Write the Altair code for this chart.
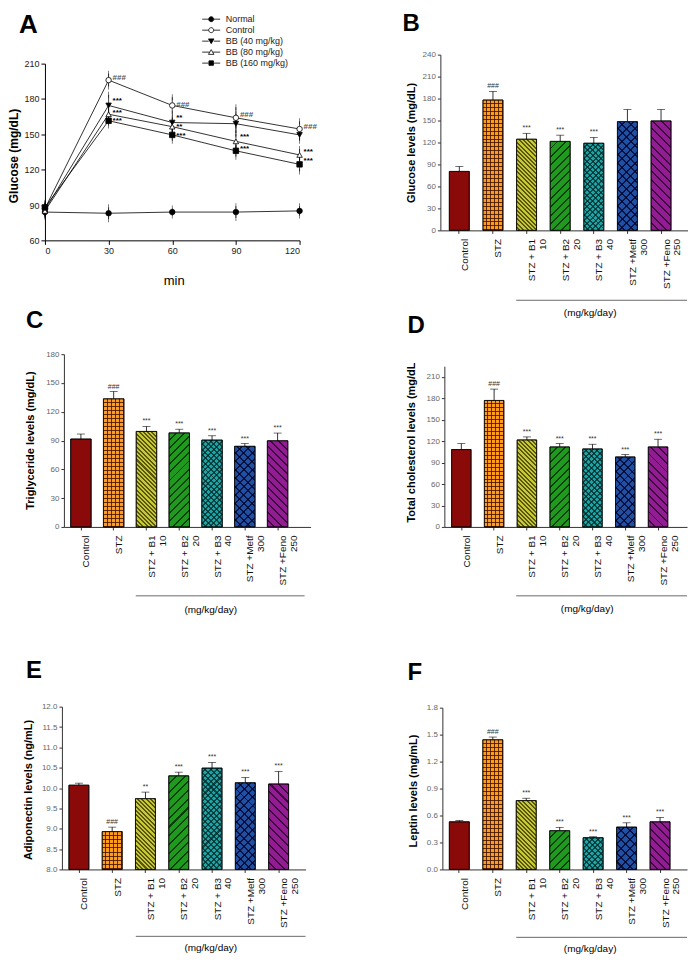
import altair as alt
import pandas as pd

FONT = "Liberation Sans"

# ---------------- Panel A : glucose tolerance ----------------
times = [0, 30, 60, 90, 120]
series_names = ["Normal", "Control", "BB (40 mg/kg)", "BB (80 mg/kg)", "BB (160 mg/kg)"]
normal_mean = [84, 83, 84, 84, 85]
normal_err = [4, 5, 3, 5, 4]
control_mean = [87, 196, 174.5, 164, 154.5]
control_err = [4, 5.5, 7, 9, 6.5]
bb40_mean = [86, 174.5, 160, 159, 149.5]
bb40_err = [4, 9, 5, 8, 5]
bb80_mean = [85, 167, 156.5, 144, 132.5]
bb80_err = [4, 5, 5, 6, 5]
bb160_mean = [88, 161.5, 149.5, 136, 124.5]
bb160_err = [4, 4, 5, 5, 6]

a_ann_series = ["Control"] * 4 + ["BB (40 mg/kg)"] * 2 + ["BB (80 mg/kg)"] * 4 + ["BB (160 mg/kg)"] * 4
a_ann_time = [30, 60, 90, 120, 30, 60, 30, 60, 90, 120, 30, 60, 90, 120]
a_ann_text = ["###"] * 4 + ["***", "**"] + ["***", "**", "***", "***"] + ["***"] * 4
a_ann_shift = [1.5, 0, 2.5, 1.5, 4, 4, 1.5, 0, 3.5, 2.5, 0, -1, 1.5, 2.5]

# ---------------- Bar panels ----------------
bar_cats = ["Control|", "STZ|", "STZ + B1|10", "STZ + B2|20", "STZ + B3|40", "STZ +Metf|300", "STZ +Feno|250"]
bar_colors = ["#8a0a0a", "#ff9c1c", "#c8c834", "#1f9a1f", "#1ea4a4", "#1f50a4", "#921c92"]
# texture of each bar: (kind, period px, line colour)
bar_textures = [
    [],
    [("h", 4, "rgba(70,20,0,0.85)"), ("v", 4, "rgba(70,20,0,0.85)")],
    [("b", 3, "rgba(40,40,0,0.7)")],
    [("f", 6, "rgba(0,40,0,0.8)")],
    [("f", 4, "rgba(0,35,35,0.7)"), ("b", 4, "rgba(0,35,35,0.7)")],
    [("f", 6, "rgba(0,0,35,0.75)"), ("b", 6, "rgba(0,0,35,0.75)")],
    [("b", 6, "rgba(35,0,35,0.75)")],
]

glu_mean = [80.5, 178, 124.5, 121.5, 119, 148.5, 149.5]
glu_err = [6.8, 11.8, 8, 8.5, 8, 16.5, 15.5]
glu_sig = ["", "###", "***", "***", "***", "", ""]

tg_mean = [91.6, 133.5, 99.5, 98, 90.5, 84, 89.8]
tg_err = [5.2, 7.6, 5.2, 3.8, 4.5, 2.8, 8]
tg_sig = ["", "###", "***", "***", "***", "***", "***"]

tc_mean = [108.3, 177, 121.8, 112, 109.2, 98, 112]
tc_err = [8.4, 15.9, 4.2, 4.7, 6.5, 3.3, 10.7]
tc_sig = ["", "###", "***", "***", "***", "***", "***"]

adn_mean = [10.07, 8.93, 9.74, 10.30, 10.49, 10.13, 10.10]
adn_err = [0.05, 0.11, 0.16, 0.09, 0.14, 0.13, 0.31]
adn_sig = ["", "###", "**", "***", "***", "***", "***"]

lep_mean = [0.53, 1.443, 0.766, 0.431, 0.353, 0.471, 0.53]
lep_err = [0.015, 0.03, 0.026, 0.037, 0.011, 0.048, 0.048]
lep_sig = ["", "###", "***", "***", "***", "***", "***"]

one = pd.DataFrame({"k": [0]})
CLEAR = "rgba(0,0,0,0)"


def text_layer(txt, x, y, size, weight="normal", align="left", baseline="alphabetic", color="black"):
    return alt.Chart(one).mark_text(
        text=txt, font=FONT, fontSize=size, fontWeight=weight, align=align,
        baseline=baseline, color=color
    ).encode(x=alt.value(x), y=alt.value(y))


def stripe_gradient(kind, period, color, W, H):
    lw = 1.0
    if kind == "h":
        n = max(1, round(H / period)); coords = dict(x1=0, y1=0, x2=0, y2=1)
    elif kind == "v":
        n = max(1, round(W / period)); coords = dict(x1=0, y1=0, x2=1, y2=0)
    else:
        k = (W + H) / (W * W + H * H)
        n = max(1, round((W + H) / (period * 1.4142)))
        if kind == "f":
            coords = dict(x1=0, y1=0, x2=k * W, y2=k * H)
        else:
            coords = dict(x1=0, y1=1, x2=k * W, y2=1 - k * H)
    frac = min(0.6, lw / period * (1.4142 if kind in "fb" else 1.0))
    stops = []
    for i in range(n):
        a = i / n
        b = (i + 1 - frac) / n
        c = (i + 1) / n
        stops += [dict(offset=a, color=CLEAR), dict(offset=b, color=CLEAR),
                  dict(offset=b, color=color), dict(offset=c, color=color)]
    return dict(gradient="linear", stops=stops, **coords)


# ---------------- Panel A chart ----------------
means = [normal_mean, control_mean, bb40_mean, bb80_mean, bb160_mean]
errs = [normal_err, control_err, bb40_err, bb80_err, bb160_err]
rows = []
for name, m, e in zip(series_names, means, errs):
    for t, mv, ev in zip(times, m, e):
        rows.append(dict(series=name, time=t, mean=mv, lo=mv - ev, hi=mv + ev))
dfa = pd.DataFrame(rows)

ann_rows = []
for s, t, txt, sh in zip(a_ann_series, a_ann_time, a_ann_text, a_ann_shift):
    mv = means[series_names.index(s)][times.index(t)]
    ann_rows.append(dict(series=s, time=t, txt=txt, yv=mv + sh,
                         col="#555555" if txt == "###" else "#000000"))
dfa_ann = pd.DataFrame(ann_rows)

AW, AH = 266, 186
a_yvals = [60, 90, 120, 150, 180, 210]
ax_x = alt.Scale(domain=[0, 120], range=[0, 255], nice=False, zero=False)
ax_y = alt.Scale(domain=[60, 210], range=[186, 9], nice=False, zero=False)
xA = alt.X("time:Q", scale=ax_x, axis=alt.Axis(
    values=times, tickCount=len(times), title="min", labelFontSize=9, labelColor="#222", tickSize=4,
    labelPadding=2, domainColor="black", tickColor="black", grid=False, labelOverlap=False,
    titleFontSize=13, titleFontWeight="normal", titleX=129, titleY=40,
    titleBaseline="middle", titleAlign="center"))
yA = alt.Y("mean:Q", scale=ax_y, axis=alt.Axis(
    values=a_yvals, tickCount=len(a_yvals), title="Glucose (mg/dL)", labelFontSize=9,
    labelColor="#222", tickSize=4, labelPadding=2, domainColor="black", tickColor="black",
    grid=False, labelOverlap=False, titleFontSize=12, titleFontWeight="bold", titleX=-24,
    titleY=101, titleAngle=270, titleBaseline="bottom", titleAlign="center"))

a_lines = alt.Chart(dfa).mark_line(color="black", strokeWidth=0.8).encode(
    x=xA, y=yA, detail="series:N")
a_err = alt.Chart(dfa).mark_rule(color="black", strokeWidth=0.7).encode(
    x=xA, y="lo:Q", y2="hi:Q")
a_cap_lo = alt.Chart(dfa).mark_tick(color="black", size=6, thickness=0.7).encode(x=xA, y="lo:Q")
a_cap_hi = alt.Chart(dfa).mark_tick(color="black", size=6, thickness=0.7).encode(x=xA, y="hi:Q")

shapes_plot = ["circle", "circle", "triangle-down", "triangle-up", "square"]
fills = ["black", "white", "black", "white", "black"]
strokes = ["black"] * 5
a_pts = alt.Chart(dfa).mark_point(filled=True, size=30, stroke="black", strokeWidth=0.8, opacity=1).encode(
    x=xA, y=yA,
    shape=alt.Shape("series:N", scale=alt.Scale(domain=series_names, range=shapes_plot), legend=None),
    fill=alt.Fill("series:N", scale=alt.Scale(domain=series_names, range=fills), legend=None))

seg = "M-1.8,0L-0.5,0M0.5,0L1.8,0"
legend_paths = [
    "M-0.5,0A0.5,0.5,0,1,0,0.5,0A0.5,0.5,0,1,0,-0.5,0Z" + seg,
    "M-0.5,0A0.5,0.5,0,1,0,0.5,0A0.5,0.5,0,1,0,-0.5,0Z" + seg,
    "M-0.55,-0.45L0.55,-0.45L0,0.5Z" + seg,
    "M-0.55,0.45L0.55,0.45L0,-0.5Z" + "M-1.8,0L-0.3,0M0.3,0L1.8,0",
    "M-0.45,-0.45L0.45,-0.45L0.45,0.45L-0.45,0.45Z" + seg,
]
leg = dict(orient="none", legendX=161, legendY=-41, title=None, labelFont=FONT,
           labelFontSize=9, labelColor="#222", symbolSize=100, symbolStrokeColor="black",
           symbolStrokeWidth=0.8, symbolOpacity=1, labelOffset=9, rowPadding=0,
           padding=0, labelLimit=200)
a_leg = alt.Chart(dfa).mark_point(filled=True, size=100, opacity=0).encode(
    x=xA, y=yA,
    shape=alt.Shape("series:N", scale=alt.Scale(domain=series_names, range=legend_paths),
                    legend=alt.Legend(**leg)),
    fill=alt.Fill("series:N", scale=alt.Scale(domain=series_names, range=fills),
                  legend=alt.Legend(**leg)),
    stroke=alt.Stroke("series:N", scale=alt.Scale(domain=series_names, range=strokes),
                      legend=alt.Legend(**leg)))

a_txt = alt.Chart(dfa_ann).mark_text(font=FONT, fontSize=8, fontWeight="bold", align="left",
                                     baseline="middle", dx=4).encode(
    x=xA, y=alt.Y("yv:Q"), text="txt:N", color=alt.Color("col:N", scale=None))

panelA = alt.layer(
    a_lines, a_err, a_cap_lo, a_cap_hi, a_pts, a_leg, a_txt,
    text_layer("A", -26, -22, 26, "bold")
).resolve_scale(shape="independent", fill="independent", stroke="independent").properties(width=AW, height=AH)


# ---------------- bar panel builder ----------------
def bar_panel(letter, mean, err, sig, ytitle, ydom, yvals, yfmt, base, g):
    df = pd.DataFrame({"cat": bar_cats, "mean": mean,
                       "top": [m + e for m, e in zip(mean, err)],
                       "sig": sig, "base": [base] * len(bar_cats)})
    step = (g["c6"] - g["c0"]) / 6
    pi = 1 - g["bw"] / step
    po = ((g["r1"] - g["r0"]) / step - 7 + pi) / 2
    al = (g["c0"] - g["r0"] - g["bw"] / 2) / (2 * po * step)
    xs = alt.Scale(domain=bar_cats, range=[g["r0"], g["r1"]], paddingInner=pi,
                   paddingOuter=po, align=al, round=False)
    ys = alt.Scale(domain=ydom, range=[g["h"], g["ytop"]], nice=False, zero=False)
    xax = alt.Axis(title=None, labelAngle=270, labelAlign="right", labelBaseline="middle",
                   labelExpr="split(datum.label, '|')", labelFontSize=10, labelLineHeight=11,
                   labelOffset=5.5, labelPadding=5, tickSize=3, domainColor="#333",
                   tickColor="#333", labelColor="#111", grid=False, labelOverlap=False)
    yax = alt.Axis(title=ytitle, values=yvals, tickCount=len(yvals), format=yfmt,
                   offset=-g["r0"], labelFontSize=8,
                   labelColor="#666", tickSize=3, labelPadding=2, domainColor="#333",
                   tickColor="#333", grid=False, labelOverlap=False, titleFontSize=11,
                   titleFontWeight="bold", titleX=g["tx"], titleY=g["ty"], titleAngle=270,
                   titleBaseline="bottom", titleAlign="center")
    X = alt.X("cat:N", scale=xs, axis=xax)
    Y = alt.Y("mean:Q", scale=ys, axis=yax)
    bars = alt.Chart(df).mark_bar(stroke="black", strokeWidth=0.7).encode(
        x=X, y=Y, y2="base:Q",
        color=alt.Color("cat:N", scale=alt.Scale(domain=bar_cats, range=bar_colors), legend=None))
    layers = [bars]
    ppu = (g["h"] - g["ytop"]) / (ydom[1] - ydom[0])
    for cat, m, tex in zip(bar_cats, mean, bar_textures):
        Hpx = max(2.0, (m - base) * ppu)
        for kind, period, col in tex:
            grad = stripe_gradient(kind, period, col, g["bw"], Hpx)
            layers.append(
                alt.Chart(df).transform_filter(alt.datum.cat == cat)
                .mark_bar(fill=grad, strokeWidth=0)
                .encode(x=X, y=Y, y2="base:Q"))
    outline = alt.Chart(df).mark_bar(stroke="black", strokeWidth=0.7, fillOpacity=0).encode(
        x=X, y=Y, y2="base:Q")
    erl = alt.Chart(df).mark_rule(color="black", strokeWidth=0.8).encode(x=X, y="mean:Q", y2="top:Q")
    cap = alt.Chart(df).mark_tick(color="black", size=8, thickness=0.8).encode(x=X, y="top:Q")
    sgt = alt.Chart(df).mark_text(font=FONT, fontSize=7, color="#333", baseline="bottom", dy=-2).encode(
        x=X, y="top:Q", text="sig:N")
    sep = alt.Chart(one).mark_rule(color="#444", strokeWidth=0.8).encode(
        x=alt.value(g["sx0"]), x2=alt.value(g["sx1"]), y=alt.value(g["sy"]))
    note = text_layer("(mg/kg/day)", g["nx"], g["ny"], 10, align="center", baseline="middle")
    lt = text_layer(letter, g["lx"], g["ly"], 24, "bold")
    layers += [outline, erl, cap, sgt, sep, note, lt]
    return alt.layer(*layers).properties(width=g["w"], height=g["h"])


gB = dict(w=248, h=176, ytop=0, r0=0, r1=248, c0=19, c6=221, bw=20, tx=-24, ty=88,
          lx=-38, ly=-24, sx0=76, sx1=247, sy=246, nx=150, ny=259)
gC = dict(w=266, h=277, ytop=104, r0=19, r1=266, c0=36, c6=233, bw=20.5, tx=-28, ty=190,
          lx=-19, ly=78, sx0=91, sx1=260, sy=346, nx=166, ny=360)
gD = dict(w=248, h=277, ytop=116, r0=4, r1=247, c0=21, c6=218, bw=19.5, tx=-28, ty=192,
          lx=-33, ly=83, sx0=76, sx1=247, sy=346, nx=147, ny=359)
gE = dict(w=266, h=333, ytop=170, r0=17, r1=261, c0=34, c6=234, bw=20, tx=-28, ty=253,
          lx=-19, ly=141, sx0=91, sx1=261, sy=400, nx=166, ny=412)
gF = dict(w=248, h=333, ytop=171, r0=2, r1=247, c0=19, c6=220, bw=20, tx=-24, ty=254,
          lx=-33, ly=143, sx0=76, sx1=247, sy=401, nx=150, ny=413)

panelB = bar_panel("B", glu_mean, glu_err, glu_sig, "Glucose levels (mg/dL)", [0, 240],
                   list(range(0, 241, 30)), "d", 0, gB)
panelC = bar_panel("C", tg_mean, tg_err, tg_sig, "Triglyceride levels (mg/dL)", [0, 180],
                   list(range(0, 181, 30)), "d", 0, gC)
panelD = bar_panel("D", tc_mean, tc_err, tc_sig, "Total cholesterol levels (mg/dL", [0, 225],
                   list(range(0, 211, 30)), "d", 0, gD)
panelE = bar_panel("E", adn_mean, adn_err, adn_sig, "Adiponectin levels (ng/mL)", [8, 12],
                   [8.0, 8.5, 9.0, 9.5, 10.0, 10.5, 11.0, 11.5, 12.0], ".1f", 8, gE)
panelF = bar_panel("F", lep_mean, lep_err, lep_sig, "Leptin levels (mg/mL)", [0, 1.8],
                   [0.0, 0.3, 0.6, 0.9, 1.2, 1.5, 1.8], ".1f", 0, gF)

chart = alt.concat(
    panelA, panelB, panelC, panelD, panelE, panelF, columns=2,
    spacing={"row": 10, "column": 130}, bounds="flush"
).properties(padding={"left": 0, "top": 3, "right": 0, "bottom": 0}).configure(
    font=FONT).configure_view(stroke=None)

chart.save("out.html", embed_options={"renderer": "svg", "actions": False})
